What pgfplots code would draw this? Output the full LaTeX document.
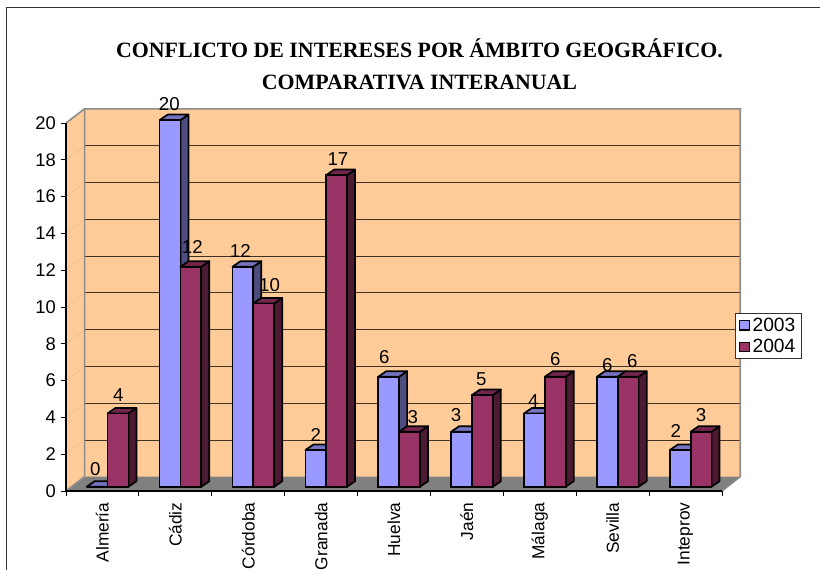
\documentclass[border=0pt]{standalone}
\usepackage{pgfplots}
\pgfplotsset{compat=1.18}
\usepackage{pgfplotstable}
\usepackage{fontspec}
\setmainfont{Liberation Sans}
\newfontfamily\timesb[Ligatures=TeX]{Liberation Serif}
\definecolor{wall}{HTML}{FFCC99}
\definecolor{wallb}{HTML}{8C8C8C}
\definecolor{floorc}{HTML}{808080}
\definecolor{a}{HTML}{9999FF}
\definecolor{aside}{HTML}{4D4D80}
\definecolor{atop}{HTML}{7373BF}
\definecolor{b}{HTML}{993366}
\definecolor{bside}{HTML}{4D1A33}
\definecolor{btop}{HTML}{73264D}
\pgfplotstableread{
i y2003 y2004 ax ay bx by
0 0 4 -1.8 17.7 0.3 18.4
1 20 12 -0.7 16.5 1.4 19.7
2 12 10 -2.6 15.7 5.8 18
3 2 17 0 15 1.3 16
4 6 3 -4.4 20 3.4 14.7
5 3 5 -5.6 16.7 -1.2 16
6 4 6 -1.2 12.7 -0.1 17.7
7 6 6 0 11.7 4 16
8 2 3 -4.3 19 0.1 16.7
}\datatable
\newcommand\faces[5]{% x-left offset, index, value, side colour, top colour
  \pgfmathsetmacro\xa{#2+#1}
  \pgfmathsetmacro\xb{#2+#1+0.286}
  \pgfmathsetmacro\xc{#2+#1+0.286+0.11}
  \pgfmathsetmacro\xd{#2+#1+0.11}
  \pgfmathsetmacro\yt{#3+0.3}
  \addplot[forget plot,fill=#4,draw=black,line width=1.3pt,line join=round] coordinates {(\xb,0) (\xc,0.3) (\xc,\yt) (\xb,#3)} --cycle;
  \addplot[forget plot,fill=#5,draw=black,line width=1.3pt,line join=round] coordinates {(\xa,#3) (\xb,#3) (\xc,\yt) (\xd,\yt)} --cycle;
}
\begin{document}
\begin{tikzpicture}[x=0.75pt,y=0.75pt]
\useasboundingbox (0,0) rectangle (820,569);
\draw[black!80,line width=0.9pt] (6.5,-5) -- (6.5,561.5) -- (825,561.5);
\begin{axis}[
  at={(49.5pt,58.5pt)},anchor=south west,
  scale only axis,width=492pt,height=276pt,
  xmin=0,xmax=9,ymin=0,ymax=20,
  clip=false,axis on top=true,
  axis x line=bottom,axis y line=left,
  axis line style={-,line width=0.8pt},
  tick style={black,line width=0.6pt},
  tick align=outside,major tick length=4pt,
  xtick={0,...,9},
  x tick label as interval,
  xticklabels={Almería,Cádiz,Córdoba,Granada,Huelva,Jaén,Málaga,Sevilla,Inteprov},
  x tick label style={rotate=90,anchor=east,font=\fontsize{13pt}{13pt}\selectfont,xshift=-1.2pt},
  ytick={0,2,...,20},
  y tick label style={font=\fontsize{13.8pt}{13.8pt}\selectfont},
  /pgf/number format/assume math mode=true,
]
\addplot[fill=wall,draw=none,forget plot] coordinates {(0.255,0.78) (9.25,0.78) (9.25,20.77) (0.255,20.77)} --cycle;
\addplot[fill=wall,draw=none,forget plot] coordinates {(0,0) (0.255,0.78) (0.255,20.77) (0,20)} --cycle;
\addplot[fill=floorc,draw=none,forget plot] coordinates {(0,0) (9,0) (9.25,0.78) (0.255,0.78)} --cycle;
\pgfplotsforeachungrouped \v in {2,4,...,20}{
  \pgfmathsetmacro\w{\v+0.77}
  \addplot[forget plot,draw=black!75!wall,line width=0.8pt] coordinates {(0.255,\w) (9.25,\w)};
  \addplot[forget plot,draw=black!6!wall,line width=0.6pt] coordinates {(0,\v) (0.255,\w)};
}
\addplot[forget plot,draw=wallb,line width=1.2pt] coordinates {(0,20) (0.255,20.77) (9.25,20.77) (9.25,0.78) (9,0)};
\addplot[forget plot,draw=wallb,line width=1.2pt] coordinates {(0,0) (0.255,0.78) (0.255,20.77)};
\end{axis}
\begin{axis}[
  at={(49.5pt,58.5pt)},anchor=south west,
  scale only axis,width=492pt,height=276pt,
  xmin=0,xmax=9,ymin=-0.234,ymax=19.842,
  clip=false,hide axis,
  legend style={at={(1.0198,0.4835)},anchor=north west,draw=black!80,line width=0.6pt,
    font=\fontsize{14.4pt}{15pt}\selectfont,inner xsep=2.5pt,inner ysep=1.5pt,
    nodes={inner ysep=1.6pt},row sep=1.5pt,
    legend cell align=left,fill=white},
  legend image code/.code={\draw[#1,line width=0.9pt] (0pt,-3.5pt) rectangle (7.5pt,3.5pt);},
  nodes near coords style={font=\fontsize{14pt}{14pt}\selectfont,anchor=center},
  /pgf/number format/assume math mode=true,
]
\pgfplotsforeachungrouped \i/\v in {0/0,1/20,2/12,3/2,4/6,5/3,6/4,7/6,8/2}{
  \faces{0.284}{\i}{\v}{aside}{atop}
}
\addplot[ybar,bar width=0.286,bar shift=0pt,fill=a,draw=black,line width=1.3pt,
  visualization depends on=\thisrow{ax}\as\lx,
  visualization depends on=\thisrow{ay}\as\ly,
  nodes near coords,
  every node near coord/.append style={xshift=0.75*\lx pt,yshift=0.75*\ly pt}]
  table[x expr=\thisrow{i}+0.427,y=y2003] {\datatable};
\addlegendentry{2003}
\pgfplotsforeachungrouped \i/\v in {0/4,1/12,2/10,3/17,4/3,5/5,6/6,7/6,8/3}{
  \faces{0.570}{\i}{\v}{bside}{btop}
}
\addplot[ybar,bar width=0.286,bar shift=0pt,fill=b,draw=black,line width=1.3pt,
  visualization depends on=\thisrow{bx}\as\lx,
  visualization depends on=\thisrow{by}\as\ly,
  nodes near coords,
  every node near coord/.append style={xshift=0.75*\lx pt,yshift=0.75*\ly pt}]
  table[x expr=\thisrow{i}+0.713,y=y2004] {\datatable};
\addlegendentry{2004}
\end{axis}
\node[font=\timesb\bfseries\fontsize{16.4pt}{24pt}\selectfont,align=center,anchor=center] at (419.5,505) {CONFLICTO DE INTERESES POR ÁMBITO GEOGRÁFICO.\\COMPARATIVA INTERANUAL};
\end{tikzpicture}
\end{document}
